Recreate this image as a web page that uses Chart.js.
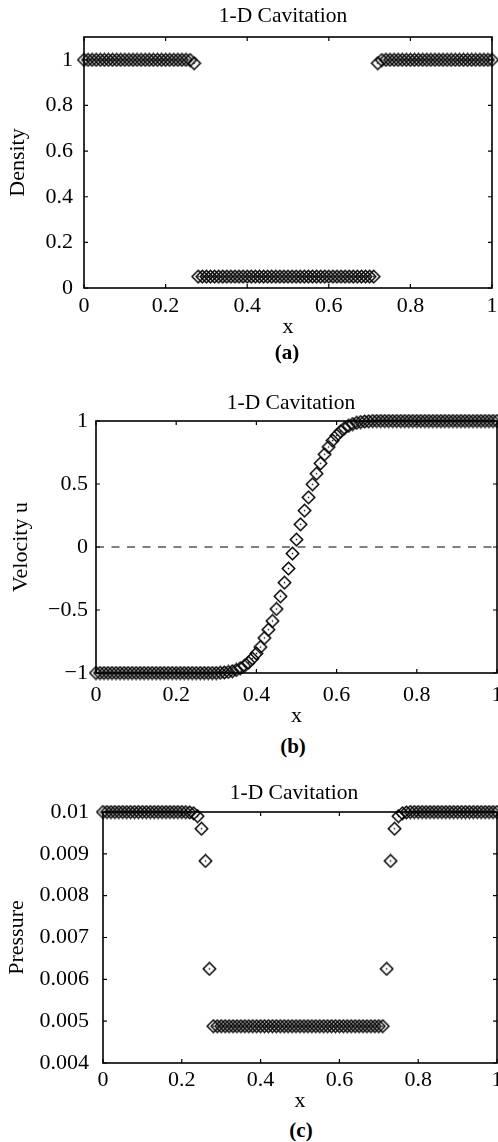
<!DOCTYPE html>
<html>
<head>
<meta charset="utf-8">
<script src="https://cdn.jsdelivr.net/npm/chart.js@4.4.1/dist/chart.umd.min.js"></script>
<style>
  html, body { margin: 0; padding: 0; background: #fff; overflow: hidden; width: 498px; height: 1142px; }
  canvas { position: absolute; left: 0; }
  .cap { position: absolute; font: bold 21px "Liberation Serif", serif; line-height: 1; transform: translate(-50%, -50%); white-space: nowrap; }
</style>
</head>
<body>
<canvas id="chartDensity" width="566" height="340" style="top:0px;width:566px;height:340px"></canvas>
<div class="cap" style="left:287px;top:352px">(a)</div>
<canvas id="chartVelocity" width="582" height="342" style="top:387px;width:582px;height:342px"></canvas>
<div class="cap" style="left:293px;top:746px">(b)</div>
<canvas id="chartPressure" width="588" height="337" style="top:777px;width:588px;height:337px"></canvas>
<div class="cap" style="left:301px;top:1130px">(c)</div>

<script>
// --- Data ---
const xs = [
  0.00, 0.01, 0.02, 0.03, 0.04, 0.05, 0.06, 0.07, 0.08, 0.09,
  0.10, 0.11, 0.12, 0.13, 0.14, 0.15, 0.16, 0.17, 0.18, 0.19,
  0.20, 0.21, 0.22, 0.23, 0.24, 0.25, 0.26, 0.27, 0.28, 0.29,
  0.30, 0.31, 0.32, 0.33, 0.34, 0.35, 0.36, 0.37, 0.38, 0.39,
  0.40, 0.41, 0.42, 0.43, 0.44, 0.45, 0.46, 0.47, 0.48, 0.49,
  0.50, 0.51, 0.52, 0.53, 0.54, 0.55, 0.56, 0.57, 0.58, 0.59,
  0.60, 0.61, 0.62, 0.63, 0.64, 0.65, 0.66, 0.67, 0.68, 0.69,
  0.70, 0.71, 0.72, 0.73, 0.74, 0.75, 0.76, 0.77, 0.78, 0.79,
  0.80, 0.81, 0.82, 0.83, 0.84, 0.85, 0.86, 0.87, 0.88, 0.89,
  0.90, 0.91, 0.92, 0.93, 0.94, 0.95, 0.96, 0.97, 0.98, 0.99,
  1.00
];

const density = [
  1, 1, 1, 1, 1, 1, 1, 1, 1, 1,
  1, 1, 1, 1, 1, 1, 1, 1, 1, 1,
  1, 1, 1, 1, 1, 1, 0.999, 0.985, 0.05, 0.05,
  0.05, 0.05, 0.05, 0.05, 0.05, 0.05, 0.05, 0.05, 0.05, 0.05,
  0.05, 0.05, 0.05, 0.05, 0.05, 0.05, 0.05, 0.05, 0.05, 0.05,
  0.05, 0.05, 0.05, 0.05, 0.05, 0.05, 0.05, 0.05, 0.05, 0.05,
  0.05, 0.05, 0.05, 0.05, 0.05, 0.05, 0.05, 0.05, 0.05, 0.05,
  0.05, 0.05, 0.985, 0.999, 1, 1, 1, 1, 1, 1,
  1, 1, 1, 1, 1, 1, 1, 1, 1, 1,
  1, 1, 1, 1, 1, 1, 1, 1, 1, 1,
  1
];

const velocity = [
  -1, -1, -1, -1, -1, -1, -1, -1, -1, -1,
  -1, -1, -1, -1, -1, -1, -1, -1, -1, -1,
  -1, -1, -1, -1, -1, -1, -1, -1, -1, -1,
  -1, -0.998, -0.996, -0.992, -0.986, -0.976, -0.962, -0.944, -0.918, -0.885,
  -0.845, -0.794, -0.722, -0.656, -0.587, -0.492, -0.391, -0.283, -0.171, -0.052,
  0.059, 0.180, 0.289, 0.394, 0.498, 0.582, 0.664, 0.736, 0.794, 0.845,
  0.885, 0.918, 0.944, 0.962, 0.976, 0.986, 0.992, 0.996, 0.998, 1,
  1, 1, 1, 1, 1, 1, 1, 1, 1, 1,
  1, 1, 1, 1, 1, 1, 1, 1, 1, 1,
  1, 1, 1, 1, 1, 1, 1, 1, 1, 1,
  1
];

const pressure = [
  0.01, 0.01, 0.01, 0.01, 0.01, 0.01, 0.01, 0.01, 0.01, 0.01,
  0.01, 0.01, 0.01, 0.01, 0.01, 0.01, 0.01, 0.01, 0.01, 0.01,
  0.01, 0.009998, 0.00999, 0.00997, 0.0099, 0.0096, 0.00883, 0.00625, 0.00488, 0.00488,
  0.00488, 0.00488, 0.00488, 0.00488, 0.00488, 0.00488, 0.00488, 0.00488, 0.00488, 0.00488,
  0.00488, 0.00488, 0.00488, 0.00488, 0.00488, 0.00488, 0.00488, 0.00488, 0.00488, 0.00488,
  0.00488, 0.00488, 0.00488, 0.00488, 0.00488, 0.00488, 0.00488, 0.00488, 0.00488, 0.00488,
  0.00488, 0.00488, 0.00488, 0.00488, 0.00488, 0.00488, 0.00488, 0.00488, 0.00488, 0.00488,
  0.00488, 0.00488, 0.00625, 0.00883, 0.0096, 0.0099, 0.00997, 0.00999, 0.01, 0.01,
  0.01, 0.01, 0.01, 0.01, 0.01, 0.01, 0.01, 0.01, 0.01, 0.01,
  0.01, 0.01, 0.01, 0.01, 0.01, 0.01, 0.01, 0.01, 0.01, 0.01,
  0.01
];

const zeroLineX = [0, 1];
const zeroLineY = [0, 0];

// tick values
const xTicks        = [0, 0.2, 0.4, 0.6, 0.8, 1];
const densityTicks  = [0, 0.2, 0.4, 0.6, 0.8, 1];
const velocityTicks = [-1, -0.5, 0, 0.5, 1];
const pressureTicks = [0.004, 0.005, 0.006, 0.007, 0.008, 0.009, 0.01];

const chartTitle = "1-D Cavitation";

// --- Helpers ---
const FAMILY     = '"Liberation Serif", "Times New Roman", serif';
const TICK_FONT  = { family: FAMILY, size: 22, weight: "normal" };
const TITLE_FONT = { family: FAMILY, size: 21.5, weight: "normal" };
const AXIS_FONT  = { family: FAMILY, size: 22, weight: "normal" };

Chart.defaults.color = "#000";
Chart.defaults.font.family = FAMILY;
Chart.defaults.font.size = 22;

function fmtTick(v) {
  return String(+Number(v).toFixed(4)).replace("-", "\u2212");
}

// open diamond with a centre dot, used as the point style
function makeDiamond() {
  const c = document.createElement("canvas");
  c.width = 15; c.height = 15;
  const g = c.getContext("2d");
  g.strokeStyle = "#000";
  g.lineWidth = 1.5;
  g.beginPath();
  g.moveTo(7.5, 1.3); g.lineTo(13.7, 7.5); g.lineTo(7.5, 13.7); g.lineTo(1.3, 7.5);
  g.closePath();
  g.stroke();
  g.fillStyle = "#000";
  g.fillRect(6.8, 6.8, 1.4, 1.4);
  return c;
}
const diamond = makeDiamond();

// box around the plot plus inward tick marks on all four sides
const frameTicks = {
  id: "frameTicks",
  beforeDatasetsDraw(chart) {
    const { ctx, chartArea: a, scales } = chart;
    ctx.save();
    ctx.strokeStyle = "#000";
    ctx.lineWidth = 1.6;
    ctx.strokeRect(a.left, a.top, a.right - a.left, a.bottom - a.top);
    ctx.lineWidth = 1.2;
    ctx.beginPath();
    scales.x.ticks.forEach(t => {
      const px = scales.x.getPixelForValue(t.value);
      ctx.moveTo(px, a.bottom); ctx.lineTo(px, a.bottom - 4);
      ctx.moveTo(px, a.top);    ctx.lineTo(px, a.top + 4);
    });
    scales.y.ticks.forEach(t => {
      const py = scales.y.getPixelForValue(t.value);
      ctx.moveTo(a.left, py);  ctx.lineTo(a.left + 4, py);
      ctx.moveTo(a.right, py); ctx.lineTo(a.right - 4, py);
    });
    ctx.stroke();
    ctx.restore();
  }
};

function points(ys) {
  return xs.map((x, i) => ({ x, y: ys[i] }));
}

function markerSet(ys) {
  return {
    data: points(ys),
    showLine: false,
    pointStyle: diamond,
    pointRadius: 6,
    borderColor: "#000",
    clip: false
  };
}

function buildChart(canvasId, p) {
  const ctx = document.getElementById(canvasId).getContext("2d");
  return new Chart(ctx, {
    type: "line",
    data: { datasets: p.datasets },
    options: {
      responsive: false,
      animation: false,
      events: [],
      layout: { padding: 0 },
      plugins: {
        legend: { display: false },
        tooltip: { enabled: false },
        title: {
          display: true,
          text: chartTitle,
          font: TITLE_FONT,
          color: "#000",
          padding: { top: 3, bottom: p.titleGap }
        }
      },
      scales: {
        x: {
          type: "linear",
          min: 0, max: 1,
          grid: { display: false, drawTicks: false },
          border: { display: false },
          ticks: { padding: p.xTickPad, maxRotation: 0, autoSkip: false, font: TICK_FONT, callback: fmtTick },
          afterBuildTicks: s => { s.ticks = xTicks.map(v => ({ value: v })); },
          title: { display: true, text: "x", font: AXIS_FONT, padding: { top: 0, bottom: 0 } },
          afterFit: s => { s.height = p.xAxisH; }
        },
        y: {
          type: "linear",
          min: p.yMin, max: p.yMax,
          grid: { display: false, drawTicks: false },
          border: { display: false },
          ticks: { padding: p.yTickPad, autoSkip: false, font: TICK_FONT, callback: fmtTick },
          afterBuildTicks: s => { s.ticks = p.yTicks.map(v => ({ value: v })); },
          title: { display: true, text: p.yTitle, font: AXIS_FONT, padding: { top: p.yTitlePad, bottom: 0 } },
          afterFit: s => { s.width = p.plotLeft; }
        },
        yR: {
          type: "linear",
          position: "right",
          display: true,
          grid: { display: false, drawTicks: false },
          border: { display: false },
          ticks: { display: false },
          afterFit: s => { s.width = p.rightGap; }
        }
      }
    },
    plugins: [frameTicks]
  });
}

// --- Panels ---
buildChart("chartDensity", {
  datasets: [markerSet(density)],
  yMin: 0, yMax: 1.1, yTicks: densityTicks,
  yTitle: "Density",
  plotLeft: 84, rightGap: 74,
  titleGap: 8.2, xAxisH: 52,
  xTickPad: 4.8, yTickPad: 11, yTitlePad: 5
});

buildChart("chartVelocity", {
  datasets: [
    markerSet(velocity),
    {
      data: zeroLineX.map((x, i) => ({ x, y: zeroLineY[i] })),
      borderColor: "#000",
      borderWidth: 1.2,
      borderDash: [8, 7.5],
      pointRadius: 0,
      showLine: true,
      fill: false
    }
  ],
  yMin: -1, yMax: 1, yTicks: velocityTicks,
  yTitle: "Velocity u",
  plotLeft: 96, rightGap: 85,
  titleGap: 5.2, xAxisH: 56,
  xTickPad: 8.8, yTickPad: 8, yTitlePad: 8
});

buildChart("chartPressure", {
  datasets: [markerSet(pressure)],
  yMin: 0.004, yMax: 0.01, yTicks: pressureTicks,
  yTitle: "Pressure",
  plotLeft: 103, rightGap: 91,
  titleGap: 6.2, xAxisH: 51,
  xTickPad: 3.8, yTickPad: 14, yTitlePad: 4.3
});
</script>
</body>
</html>
